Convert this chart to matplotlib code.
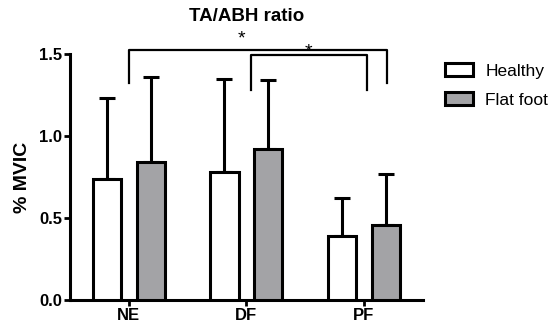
import numpy as np
import matplotlib.pyplot as plt

plt.rcParams['font.family'] = ['Liberation Sans', 'DejaVu Sans']

# данные
groups = ['NE', 'DF', 'PF']
healthy = [0.74, 0.78, 0.39]
healthy_top = [1.23, 1.35, 0.62]
flat = [0.84, 0.92, 0.46]
flat_top = [1.36, 1.34, 0.77]

healthy_err = [t - v for t, v in zip(healthy_top, healthy)]
flat_err = [t - v for t, v in zip(flat_top, flat)]

fig = plt.figure(figsize=(5.57, 3.31), dpi=100)
ax = fig.add_axes([0.1257, 0.0937, 0.6333, 0.7433])

x = np.arange(len(groups))
w = 0.24
off = 0.187
lw = 2.2

ax.bar(x - off, healthy, w, color='white', edgecolor='black', linewidth=lw, label='Healthy', zorder=3)
ax.bar(x + off, flat, w, color='#a3a3a6', edgecolor='black', linewidth=lw, label='Flat foot', zorder=3)
ax.errorbar(x - off, healthy, yerr=[np.zeros(3), healthy_err], fmt='none', ecolor='black',
            elinewidth=lw, capsize=5.5, capthick=lw, zorder=2)
ax.errorbar(x + off, flat, yerr=[np.zeros(3), flat_err], fmt='none', ecolor='black',
            elinewidth=lw, capsize=5.5, capthick=lw, zorder=2)

ax.set_xlim(-0.5, 2.5)
ax.set_ylim(0, 1.5)
ax.set_yticks([0.0, 0.5, 1.0, 1.5])
ax.set_yticklabels(['0.0', '0.5', '1.0', '1.5'])
ax.set_xticks(x)
ax.set_xticklabels(groups)
for s in ['top', 'right']:
    ax.spines[s].set_visible(False)
for s in ['left', 'bottom']:
    ax.spines[s].set_linewidth(2.2)
ax.tick_params(width=2, length=4.5, labelsize=12, pad=1)
for lab in ax.get_xticklabels() + ax.get_yticklabels():
    lab.set_fontweight('bold')

ax.set_ylabel('% MVIC', fontsize=14, fontweight='bold', labelpad=6)
fig.text(0.5 * (0.1257 + 0.7590), 1 - 8 / 331, 'TA/ABH ratio', ha='center', va='top',
         fontsize=13.5, fontweight='bold')

# скобки значимости
kw = dict(color='black', linewidth=1.6, clip_on=False)
ax.plot([0, 0, 2.2, 2.2], [1.32, 1.523, 1.523, 1.32], **kw)
ax.plot([1.04, 1.04, 2.03, 2.03], [1.28, 1.492, 1.492, 1.28], **kw)
ax.text(0.96, 1.54, '*', ha='center', va='bottom', fontsize=14)
ax.text(1.53, 1.46, '*', ha='center', va='bottom', fontsize=14)

ax.legend(loc='upper left', bbox_to_anchor=(429 / 557, 1 - 47 / 331), bbox_transform=fig.transFigure,
          frameon=False, fontsize=12.5, handlelength=1.65, handleheight=0.85,
          labelspacing=0.75, handletextpad=0.7)

fig.savefig('out.png', dpi=100)
